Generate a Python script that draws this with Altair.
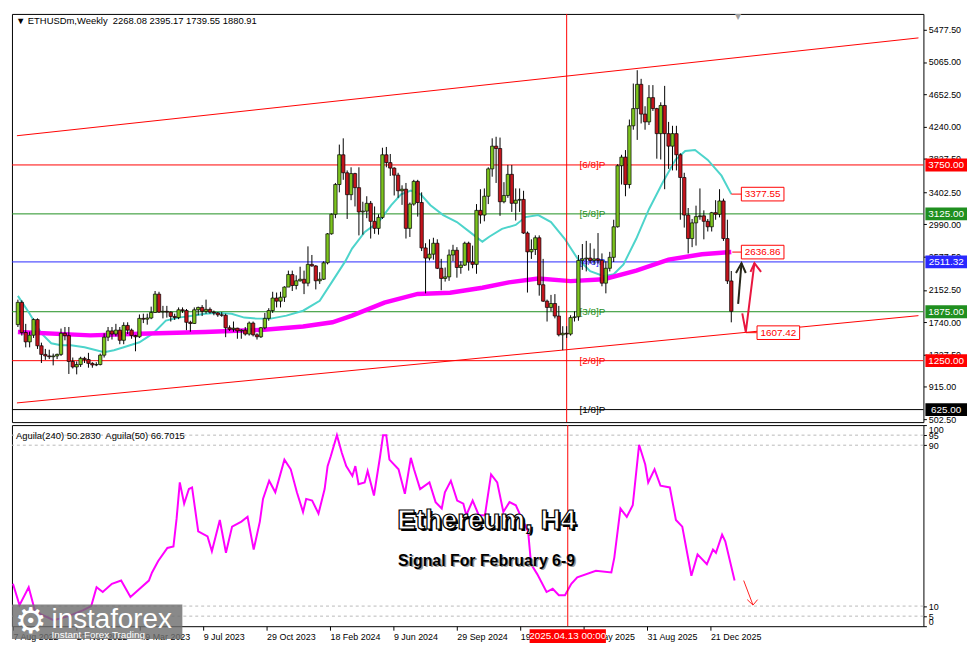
import altair as alt
import pandas as pd

FONT = "Liberation Sans"
BIG = "Liberation Sans"

# ---------------- weekly candles (first candle = week of 7 Aug 2022) ----------------
first_week = "2022-08-07"
opens = [1710, 1995, 1610, 1490, 1575, 1775, 1440, 1330, 1310, 1300,
         1310, 1330, 1600, 1570, 1240, 1170, 1200, 1280, 1265, 1215,
         1195, 1200, 1320, 1550, 1630, 1590, 1640, 1510, 1700, 1640,
         1570, 1555, 1790, 1780, 1795, 1865, 2100, 1870, 1880, 1870,
         1815, 1800, 1900, 1890, 1740, 1725, 1900, 1930, 1880, 1905,
         1870, 1860, 1835, 1830, 1670, 1650, 1665, 1630, 1640, 1590,
         1730, 1580, 1555, 1670, 1790, 1890, 2050, 2010, 2060, 2190,
         2350, 2210, 2270, 2290, 2240, 2480, 2460, 2270, 2290, 2500,
         2870, 3120, 3500, 3880, 3650, 3370, 3640, 3460, 3150, 3160,
         3260, 3030, 2940, 3080, 3880, 3780, 3710, 3620, 3420, 3440,
         2940, 3250, 3540, 3270, 2690, 2560, 2610, 2750, 2430, 2300,
         2320, 2600, 2660, 2440, 2470, 2750, 2510, 2480, 3170, 3110,
         3350, 3700, 3990, 3960, 3280, 3360, 3630, 3260, 3300, 3310,
         2880, 2640, 2670, 2820, 2220, 2010, 1930, 1980, 1820, 1580,
         1600, 1590, 1800, 1810, 2530, 2550, 2560, 2530, 2550, 2530,
         2240, 2430, 2570, 2960, 3740, 3850, 3500, 4250, 4470, 4780,
         4400, 4300, 4610, 4470, 4150, 4510, 4150, 3990, 4150, 3880,
         3590, 3110, 2810, 3010, 3090, 3100, 3030, 2960, 3140, 3120,
         3290, 2810, 2268.08]
highs = [2030, 2020, 1720, 1620, 1790, 1790, 1480, 1400, 1390, 1340,
         1340, 1660, 1680, 1680, 1290, 1240, 1300, 1300, 1350, 1230,
         1230, 1340, 1600, 1680, 1680, 1720, 1680, 1740, 1740, 1660,
         1580, 1840, 1850, 1850, 1940, 2140, 2130, 1950, 1950, 1880,
         1850, 1930, 1930, 1910, 1760, 1930, 1940, 1960, 2030, 1930,
         1890, 1870, 1870, 1850, 1700, 1750, 1670, 1650, 1680, 1750,
         1750, 1600, 1680, 1860, 1920, 2130, 2120, 2130, 2200, 2400,
         2400, 2340, 2450, 2400, 2710, 2600, 2470, 2380, 2520, 2880,
         3130, 3520, 4010, 4090, 3680, 3720, 3650, 3720, 3280, 3350,
         3290, 3220, 3120, 3970, 3980, 3890, 3720, 3650, 3490, 3520,
         3270, 3560, 3560, 3400, 2750, 2800, 2820, 2800, 2550, 2440,
         2670, 2730, 2700, 2520, 2770, 2770, 2720, 3250, 3440, 3450,
         3720, 4090, 4110, 4100, 3530, 3750, 3750, 3450, 3450, 3420,
         2900, 2800, 2850, 2850, 2550, 2030, 2090, 2100, 1950, 1690,
         1690, 1830, 1880, 2600, 2740, 2780, 2750, 2680, 2880, 2620,
         2520, 2640, 3050, 3760, 3880, 3940, 4330, 4790, 4960, 4850,
         4500, 4770, 4770, 4480, 4550, 4760, 4300, 4250, 4250, 3900,
         3650, 3200, 3060, 3230, 3450, 3170, 3060, 3150, 3300, 3440,
         3320, 3050, 2395.17]
lows = [1680, 1570, 1420, 1420, 1540, 1400, 1220, 1260, 1270, 1190,
        1270, 1310, 1510, 1080, 1150, 1075, 1170, 1220, 1160, 1160,
        1180, 1190, 1290, 1500, 1520, 1560, 1460, 1460, 1590, 1530,
        1370, 1540, 1730, 1710, 1780, 1860, 1860, 1790, 1800, 1750,
        1770, 1780, 1860, 1640, 1620, 1720, 1830, 1820, 1850, 1850,
        1830, 1810, 1810, 1550, 1630, 1620, 1530, 1530, 1570, 1570,
        1560, 1520, 1540, 1650, 1760, 1860, 1930, 1930, 2000, 2190,
        2140, 2160, 2260, 2100, 2200, 2450, 2160, 2230, 2280, 2480,
        2860, 3070, 3400, 3560, 3060, 3300, 3220, 2850, 2860, 3070,
        2810, 2870, 2860, 3060, 3720, 3610, 3360, 3330, 3240, 2810,
        2830, 3230, 3090, 2650, 2110, 2530, 2540, 2420, 2150, 2260,
        2270, 2520, 2310, 2360, 2460, 2400, 2430, 2360, 3000, 3030,
        3250, 3600, 3520, 3100, 3260, 3330, 3150, 3040, 3150, 2870,
        2120, 2550, 2600, 2080, 2000, 1750, 1880, 1790, 1560, 1385,
        1540, 1570, 1750, 1760, 2410, 2390, 2490, 2480, 2490, 2200,
        2110, 2390, 2510, 2950, 3500, 3350, 3450, 4200, 4070, 4280,
        4200, 4260, 4440, 3830, 3820, 3440, 3700, 3680, 3680, 3050,
        2950, 2620, 2700, 2720, 3050, 2800, 2900, 2900, 3050, 3080,
        2780, 2230, 1739.55]
closes = [1995, 1610, 1490, 1575, 1775, 1440, 1330, 1310, 1300, 1310,
          1330, 1600, 1570, 1240, 1170, 1200, 1280, 1265, 1215, 1195,
          1200, 1320, 1550, 1630, 1590, 1640, 1510, 1700, 1640, 1570,
          1555, 1790, 1780, 1795, 1865, 2100, 1870, 1880, 1870, 1815,
          1800, 1900, 1890, 1740, 1725, 1900, 1930, 1880, 1905, 1870,
          1860, 1835, 1830, 1670, 1650, 1665, 1630, 1640, 1590, 1730,
          1580, 1555, 1670, 1790, 1890, 2050, 2010, 2060, 2190, 2350,
          2210, 2270, 2290, 2240, 2480, 2460, 2270, 2290, 2500, 2870,
          3120, 3500, 3880, 3650, 3370, 3640, 3460, 3150, 3160, 3260,
          3030, 2940, 3080, 3880, 3780, 3710, 3620, 3420, 3440, 2940,
          3250, 3540, 3270, 2690, 2560, 2610, 2750, 2430, 2300, 2320,
          2600, 2660, 2440, 2470, 2750, 2510, 2480, 3170, 3110, 3350,
          3700, 3990, 3960, 3280, 3360, 3630, 3260, 3300, 3310, 2880,
          2640, 2670, 2820, 2220, 2010, 1930, 1980, 1820, 1580, 1600,
          1590, 1800, 1810, 2530, 2550, 2560, 2530, 2550, 2530, 2240,
          2430, 2570, 2960, 3740, 3850, 3500, 4250, 4470, 4780, 4400,
          4300, 4610, 4470, 4150, 4510, 4150, 3990, 4150, 3880, 3590,
          3110, 2810, 3010, 3090, 3100, 3030, 2960, 3140, 3120, 3290,
          2810, 2268.08, 1880.91]

# ---------------- moving averages (week offset from first candle, price) ----------------
fast_ma_weeks = [0, 3, 6, 8.5, 11, 13.5, 17, 20, 22, 24.5, 27, 31, 34.5, 37.75, 41, 44.5, 47.75,
                 51, 54.5, 57.75, 61, 64.5, 68.5, 72.75, 77, 80.25, 83.5, 85.25, 88.5, 92, 95.25,
                 97.75, 100.25, 102.75, 105.25, 108.5, 112, 115.25, 118.5, 120.25, 123.5, 127,
                 129.5, 132.75, 136, 139.5, 142.75, 146, 149.5, 152, 154.5, 157.75, 161, 164.5,
                 167.75, 170.25, 172.75, 176, 179.5, 182]
fast_ma_values = [2077, 1850, 1598, 1472, 1447, 1447, 1422, 1384, 1359, 1384, 1422, 1485, 1598,
                  1762, 1800, 1825, 1850, 1863, 1850, 1800, 1787, 1787, 1825, 1888, 2014, 2266,
                  2518, 2681, 2895, 3021, 3236, 3374, 3424, 3374, 3236, 3110, 3021, 2895, 2770,
                  2833, 2933, 2984, 3084, 3110, 3021, 2807, 2555, 2392, 2329, 2354, 2480, 2807,
                  3185, 3525, 3815, 3928, 3941, 3815, 3613, 3377.55]
slow_ma_weeks = [0, 18.5, 31, 47.75, 62.75, 72.75, 80.25, 85.25, 93.5, 102, 110.25, 118.5,
                 125.25, 132.75, 141, 149.5, 157.75, 166, 174.5, 182]
slow_ma_values = [1615, 1573, 1594, 1615, 1645, 1686, 1740, 1825, 1992, 2102, 2118, 2181,
                  2250, 2300, 2266, 2290, 2400, 2540, 2610, 2636.86]

# ---------------- Aguila oscillator ----------------
aguila_weeks = [0, 1.65, 3.97, 5.5, 7, 10.25, 14, 17.75, 19.75, 21.1, 22.65, 24.97, 27.3, 29.65,
                34.3, 35.1, 36.65, 38.97, 40.5, 41.3, 42.1, 43.2, 44.4, 45.2, 46.75, 49.1, 50.2,
                52.2, 53.75, 55.3, 57.65, 59.2, 60.75, 62.3, 63.1, 64.65, 66.2, 68.5, 70.1, 71.65,
                73.2, 74, 75.5, 77.1, 78.65, 79.4, 80.2, 81.75, 83, 84.1, 85.65, 86.4, 87.2, 88.75,
                89.5, 91.1, 92.65, 93.4, 94.2, 95, 97.3, 98.9, 100.4, 101.2, 102.75, 105.1, 106.65,
                108.2, 109, 110.5, 112.1, 113.65, 114.4, 116, 117.55, 119.1, 120.65, 122.2, 123.75,
                125.3, 126.9, 128.4, 130, 130.75, 132.3, 134.65, 136.2, 137.75, 139.3, 140.9, 142.4,
                147.1, 151, 151.75, 153.3, 154.9, 156.4, 158, 159.55, 160.3, 161.9, 163.4, 165.75,
                167.3, 168.9, 171.2, 172.75, 175.1, 176.65, 177.4, 178.95, 179.75, 182.1]
aguila_values = [21.1, 10.5, 19.4, 8, 6, 3, 5, 8, 10, 19.4, 17, 21.1, 22.7, 14.5, 22.7, 26.7,
                 32.4, 38.9, 39.7, 53.6, 71.5, 60.9, 68.2, 69, 47.1, 44.6, 37.3, 52.8, 36.5, 49.5,
                 52, 54.4, 38.1, 52, 63.3, 72.3, 66.6, 82.8, 78, 66.6, 56.8, 63.3, 62.5, 56, 68.2,
                 79.6, 84.5, 95, 86.1, 79.6, 74.7, 79.6, 70.6, 71.5, 77.2, 65, 84.5, 95, 95, 82.8,
                 78, 65.8, 83.7, 78, 68.2, 71.5, 61.7, 58.5, 66.6, 72.3, 62.5, 60.9, 55.2, 62.5,
                 55.2, 55.2, 75.5, 71.5, 56.8, 61.7, 60.1, 53.6, 47.1, 30.8, 25.9, 17, 18.6, 15.4,
                 15.4, 21.1, 24.3, 27.6, 26.7, 34.1, 58.5, 54.4, 60.1, 90.2, 80.4, 71.5, 78, 69.9,
                 69, 52.8, 49.5, 25.1, 35.7, 30.8, 38.1, 36.5, 45.5, 42.2, 22.7]

# ---------------- Murray levels, channel, annotations ----------------
level_prices = [3750, 3125, 2511.32, 1875, 1250, 625]
level_tags = ["3750.00", "3125.00", "2511.32", "1875.00", "1250.00", "625.00"]
level_names = ["[6/8]P", "[5/8]P", "[4/8]P", "[3/8]P", "[2/8]P", "[1/8]P"]
level_colors = ["#ff0000", "#1f8f1f", "#2828ff", "#1f8f1f", "#ff0000", "#000000"]
level_label_offsets = [7, 7, 8, 7, 8, 6]
level_label_week = 143.25

channel_weeks = [-0.25, 229.75]
channel_upper = [4123, 5373]
channel_lower = [710, 1825]

end_tags = ["3377.55", "2636.86", "1607.42"]
end_prices = [3377.55, 2636.86, 1607.42]
end_from_weeks = [182, 182.25, 185.75]
end_to_weeks = [184.75, 184.75, 188.5]
end_box_weeks = [190, 190, 194]

arrow_seg = ["b1", "b1", "b2", "b2", "b2", "r1", "r1", "r1", "r2", "r2", "r2"]
arrow_weeks = [183.75, 184.6, 183.2, 184.6, 185.7, 184.8, 185.7, 187.9, 186.9, 187.9, 189.6]
arrow_prices = [1976, 2496, 2370, 2496, 2370, 1854, 1615, 2496, 2383, 2496, 2383]
arrow_colors = ["#262619"] * 5 + ["#e8173f"] * 6

osc_arrow_seg = ["a", "a", "h", "h", "h"]
osc_arrow_weeks = [184.4, 186.75, 185.3, 186.75, 187.9]
osc_arrow_values = [22.7, 10.5, 13.2, 10.5, 13.2]

price_ticks = [502.5, 915, 1327.5, 1740, 2152.5, 2577.5, 2990, 3402.5, 3827.5, 4240,
               4652.5, 5065, 5477.5]
osc_ticks = [0, 5, 10, 90, 95, 100]
osc_dashes = [95, 90, 10, 5]
date_ticks = ["2022-08-07", "2022-11-27", "2023-03-19", "2023-07-09", "2023-10-29",
              "2024-02-18", "2024-06-09", "2024-09-29", "2025-01-19", "2025-05-11",
              "2025-08-31", "2025-12-21"]
cursor_date = "2025-04-13"

GREEN = "#7cc41e"
RED = "#c4141c"

# ---------------- helpers ----------------
BASE = pd.Timestamp(first_week)


def iso(ts):
    return pd.Timestamp(ts).strftime("%Y-%m-%dT%H:%M:%SZ")


def wdate(w):
    return iso(BASE + pd.Timedelta(hours=round(w * 7 * 24, 3)))


def ms(ts):
    return int(pd.Timestamp(ts).value // 10**6)


W, H1, H2 = 920, 412, 203
XS = alt.Scale(type="utc", domain=[ms(BASE - pd.Timedelta(hours=42)),
                                   ms(BASE + pd.Timedelta(hours=229.75 * 168))])
YS = alt.Scale(domain=[465, 5679], nice=False, zero=False)
YS2 = alt.Scale(domain=[0, 100], nice=False, zero=False)

yax = alt.Axis(orient="right", values=price_ticks, format=".2f", tickSize=3, domain=False,
               grid=False, labelOverlap=False, labelPadding=2, title=None)
yax2 = alt.Axis(orient="right", values=osc_ticks, format="d", tickSize=3, domain=False,
                grid=False, labelOverlap=False, labelFlush=True, labelPadding=2, title=None)
xax = alt.Axis(values=[ms(d) for d in date_ticks],
               labelExpr="utcFormat(datum.value, '%-d %b %Y')",
               labelAlign="left", labelBaseline="top", tickSize=4, labelPadding=2,
               domain=False, grid=False, labelOverlap=False, labelFlush=False, title=None)


def xt(f):
    return alt.X(f, type="temporal", scale=XS, axis=None)


def xl(f):
    return alt.X(f, type="temporal", scale=XS, axis=xax)


def yt(f):
    return alt.Y(f, type="quantitative", scale=YS, axis=yax)


def yl(f):
    return alt.Y(f, type="quantitative", scale=YS2, axis=yax2)


# ---------------- data frames ----------------
cdf = pd.DataFrame({"date": [wdate(i) for i in range(len(opens))], "open": opens,
                    "high": highs, "low": lows, "close": closes})
cdf["dir"] = ["up" if c >= o else "down" for o, c in zip(opens, closes)]

chdf = pd.DataFrame({"date": [wdate(w) for w in channel_weeks] * 2,
                     "price": channel_upper + channel_lower,
                     "line": ["u", "u", "l", "l"]})
lvdf = pd.DataFrame({"price": level_prices, "tag": level_tags, "name": level_names,
                     "col": level_colors, "ldate": wdate(level_label_week),
                     "dy": level_label_offsets})
fdf = pd.DataFrame({"date": [wdate(w) for w in fast_ma_weeks], "price": fast_ma_values})
sdf = pd.DataFrame({"date": [wdate(w) for w in slow_ma_weeks], "price": slow_ma_values})
edf = pd.DataFrame({"d0": [wdate(w) for w in end_from_weeks],
                    "d1": [wdate(w) for w in end_to_weeks],
                    "dc": [wdate(w) for w in end_box_weeks],
                    "price": end_prices, "tag": end_tags})
adf = pd.DataFrame({"seg": arrow_seg, "ord": list(range(len(arrow_seg))),
                    "date": [wdate(w) for w in arrow_weeks], "price": arrow_prices,
                    "col": arrow_colors})
agdf = pd.DataFrame({"date": [wdate(w) for w in aguila_weeks], "val": aguila_values})
oadf = pd.DataFrame({"seg": osc_arrow_seg, "ord": list(range(len(osc_arrow_seg))),
                     "date": [wdate(w) for w in osc_arrow_weeks], "val": osc_arrow_values})
curdf = pd.DataFrame({"date": [iso(cursor_date)], "lab": ["2025.04.13 00:00"]})

# ---------------- top panel ----------------
channel = alt.Chart(chdf).mark_line(color="#ff0000", strokeWidth=1, clip=True).encode(
    x=xt("date"), y=yt("price"), detail="line:N")
level_rules = alt.Chart(lvdf).mark_rule(strokeWidth=1).encode(
    y=yt("price"), color=alt.Color("col:N", scale=None))
level_text = alt.Chart(lvdf).mark_text(align="left", baseline="middle", font=FONT,
                                        fontSize=10).encode(
    x=xt("ldate"), y=yt("price"), text="name:N", color=alt.Color("col:N", scale=None),
    yOffset=alt.YOffset("dy:Q", scale=None))
fast_line = alt.Chart(fdf).mark_line(color="#4dd4cb", strokeWidth=2).encode(
    x=xt("date"), y=yt("price"))
slow_line = alt.Chart(sdf).mark_line(color="#ff00ff", strokeWidth=4.5).encode(
    x=xt("date"), y=yt("price"))
cursor1 = alt.Chart(curdf).mark_rule(color="#ff0000", strokeWidth=1).encode(x=xt("date"))
wicks = alt.Chart(cdf).mark_rule(color="black", strokeWidth=1).encode(
    x=xt("date"), y=yt("low"), y2="high")
bodies = alt.Chart(cdf).mark_bar(size=3.4, stroke="black", strokeWidth=0.7).encode(
    x=xt("date"), y=yt("open"), y2="close",
    color=alt.Color("dir:N", scale=alt.Scale(domain=["up", "down"], range=[GREEN, RED]),
                    legend=None))
conn = alt.Chart(edf).mark_rule(color="#ff0000", strokeWidth=1).encode(
    x=xt("d0"), x2="d1", y=yt("price"))
ebox = alt.Chart(edf).mark_point(shape="M-1,-0.32H1V0.32H-1Z", size=43 * 43, fill="white",
                                 fillOpacity=1, stroke="#ff0000", strokeWidth=1,
                                 opacity=1).encode(x=xt("dc"), y=yt("price"))
etxt = alt.Chart(edf).mark_text(color="#ff0000", font=FONT, fontSize=10).encode(
    x=xt("dc"), y=yt("price"), text="tag:N")
tbox = alt.Chart(lvdf).mark_point(shape="M-1,-0.31H1V0.31H-1Z", size=42 * 42, filled=True,
                                  opacity=1).encode(
    x=alt.value(943), y=yt("price"), color=alt.Color("col:N", scale=None))
ttxt = alt.Chart(lvdf).mark_text(color="white", font=FONT, fontSize=10).encode(
    x=alt.value(943), y=yt("price"), text="tag:N")
arrows = alt.Chart(adf).mark_line(strokeWidth=2).encode(
    x=xt("date"), y=yt("price"), detail="seg:N", order="ord:Q",
    color=alt.Color("col:N", scale=None))
head = alt.Chart(pd.DataFrame({"t": ["\u25bc ETHUSDm,Weekly\u00a0 2268.08 2395.17 1739.55 1880.91"]})
                 ).mark_text(align="left", baseline="middle", font=FONT, fontSize=9.5,
                             color="black").encode(x=alt.value(4), y=alt.value(7), text="t:N")
marker = alt.Chart(pd.DataFrame({"t": ["\u25bc"]})).mark_text(
    font="DejaVu Sans", fontSize=8, color="#a0a0a0").encode(x=alt.value(733), y=alt.value(3),
                                                            text="t:N")

top = alt.layer(channel, level_rules, fast_line, slow_line, cursor1, level_text, wicks, bodies,
                conn, ebox, etxt, tbox, ttxt, arrows, head, marker).properties(width=W, height=H1)

# ---------------- lower panel ----------------
dash = alt.Chart(pd.DataFrame({"v": osc_dashes})).mark_rule(
    color="#b9b9b9", strokeDash=[3, 3], strokeWidth=1).encode(y=yl("v"))
agl = alt.Chart(agdf).mark_line(color="#ff00ff", strokeWidth=2).encode(x=xl("date"), y=yl("val"))
cursor2 = alt.Chart(curdf).mark_rule(color="#ff0000", strokeWidth=1).encode(x=xl("date"))
oarrow = alt.Chart(oadf).mark_line(color="#ff2020", strokeWidth=1).encode(
    x=xl("date"), y=yl("val"), detail="seg:N", order="ord:Q")
head2 = alt.Chart(pd.DataFrame({"t": ["Aguila(240) 50.2830\u00a0 Aguila(50) 66.7015"]})
                  ).mark_text(align="left", baseline="middle", font=FONT, fontSize=9.5,
                              color="black").encode(x=alt.value(4), y=alt.value(11), text="t:N")
tdf = pd.DataFrame({"t": ["Ethereum, H4"]})
t_shadow = alt.Chart(tdf).mark_text(font=BIG, fontSize=28, fontWeight="bold", color="black",
                                    dx=2, dy=2).encode(x=alt.value(479), y=alt.value(97), text="t:N")
t_main = alt.Chart(tdf).mark_text(font=BIG, fontSize=28, fontWeight="bold", fill="white",
                                  stroke="black", strokeWidth=1.2).encode(
    x=alt.value(479), y=alt.value(97), text="t:N")
sdf2 = pd.DataFrame({"t": ["Signal For February 6-9"]})
s_shadow = alt.Chart(sdf2).mark_text(font=BIG, fontSize=16, fontWeight="bold", color="#9a9a9a",
                                     dx=1.5, dy=1.5).encode(x=alt.value(479), y=alt.value(137),
                                                            text="t:N")
s_main = alt.Chart(sdf2).mark_text(font=BIG, fontSize=16, fontWeight="bold", color="black").encode(
    x=alt.value(479), y=alt.value(137), text="t:N")
logo_box = alt.Chart(pd.DataFrame({"a": [0]})).mark_rect(color="#6f6f6f", opacity=0.82).encode(
    x=alt.value(0), x2=alt.value(172), y=alt.value(181), y2=alt.value(216))
gear = alt.Chart(pd.DataFrame({"t": ["\u2699"]})).mark_text(
    font="DejaVu Sans", fontSize=36, color="white", baseline="middle").encode(
    x=alt.value(19), y=alt.value(199), text="t:N")
logo_t = alt.Chart(pd.DataFrame({"t": ["instaforex"]})).mark_text(
    font=BIG, fontSize=28, color="white", align="left", baseline="alphabetic").encode(
    x=alt.value(40), y=alt.value(205), text="t:N")
logo_s = alt.Chart(pd.DataFrame({"t": ["Instant Forex Trading"]})).mark_text(
    font=BIG, fontSize=10, color="white", align="left", baseline="alphabetic").encode(
    x=alt.value(40), y=alt.value(215), text="t:N")
dbox = alt.Chart(curdf).mark_point(shape="M-1,-0.18H1V0.18H-1Z", size=77 * 77, filled=True,
                                   color="#ff0000", opacity=1).encode(
    x=xl("date"), y=alt.value(H2 + 10))
dtxt = alt.Chart(curdf).mark_text(color="white", font=FONT, fontSize=10).encode(
    x=xl("date"), y=alt.value(H2 + 10), text="lab:N")

bottom = alt.layer(dash, agl, cursor2, oarrow, head2, t_shadow, t_main, s_shadow, s_main,
                   logo_box, gear, logo_t, logo_s, dbox, dtxt).properties(width=W, height=H2)

chart = alt.vconcat(top, bottom, spacing=3, bounds="flush").properties(
    padding={"left": 0, "top": 1, "right": 0, "bottom": 0}
).configure_view(stroke="black", strokeWidth=1).configure_axis(
    labelFont=FONT, labelFontSize=9, labelColor="black", tickColor="black", tickWidth=1)

chart.save("out.html", embed_options={"renderer": "svg", "actions": False})
